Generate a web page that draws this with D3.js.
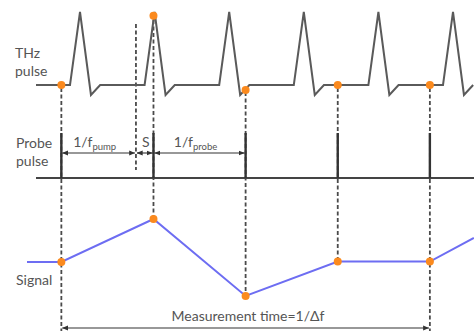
<!DOCTYPE html>
<html>
<head>
<meta charset="utf-8">
<script src="https://cdn.jsdelivr.net/npm/d3@7"></script>
<style>
  html, body { margin: 0; padding: 0; background: #fff; }
  svg { display: block; }
  text { font-family: Lato, "Open Sans", sans-serif; fill: #555; }
</style>
</head>
<body>
<svg id="chart" width="474" height="333"></svg>
<script>
// Time axis is in units of the pump period (THz pulse peaks at integer times).
const pumpPeaks = [0, 1, 2, 3, 4, 5];
// Shape of a single THz pulse: time offsets from its peak and normalised amplitude.
const pulseOffsets = [-0.134, 0, 0.147, 0.27];
const pulseAmps = [0, 1, -0.137, 0];
// Probe (sampling) instants, separated by 1/f_probe.
const sampleTimes = [-0.25, 0.985, 2.22, 3.455, 4.69];
// THz field seen at each probe instant.
const thzSampled = [0, 0.95, -0.07, 0, 0];
// Recorded signal at each probe instant, plus lead-in and trailing values.
const signalTimes = [-0.71, -0.25, 0.985, 2.22, 3.455, 4.69, 5.28];
const signalValues = [0, 0, 1, -0.79, 0.01, 0.01, 0.56];
// Interval markers (start, end, label main text, subscript).
const intervalStarts = [-0.25, 0.75, 0.985];
const intervalEnds = [0.75, 0.985, 2.22];
const intervalLabels = ["1/f", "S", "1/f"];
const intervalSubs = ["pump", "", "probe"];
// Dashed guide lines through the sampling instants and the end of one pump period.
const guideTimes = [-0.25, 0.75, 0.985, 2.22, 3.455, 4.69];
const rowLabels = [["THz", "pulse"], ["Probe", "pulse"], ["Signal"]];

const svg = d3.select("#chart");
const x = d3.scaleLinear().domain([0, 1]).range([80, 154.6]);
const yThz = d3.scaleLinear().domain([0, 1]).range([85, 12]);
const ySig = d3.scaleLinear().domain([0, 1]).range([262, 219]);
const probeBase = 178, probeTop = 133;
const arrowY = 153, measureY = 328;

const ink = "#4a4a4a";

// arrow markers
const defs = svg.append("defs");
defs.append("marker").attr("id", "arr")
  .attr("viewBox", "0 0 10 10").attr("refX", 9.5).attr("refY", 5)
  .attr("markerWidth", 5.5).attr("markerHeight", 5.5)
  .attr("orient", "auto-start-reverse")
  .append("path").attr("d", "M0,1 L10,5 L0,9 Z").attr("fill", "#333");

// guide lines (drawn first so traces sit on top)
const guideTop = [88, 24, 20, 92, 88, 88];
const guideBottom = [331, 170, 219, 296, 261, 331];
svg.append("g").selectAll("line").data(guideTimes).join("line")
  .attr("x1", d => x(d)).attr("x2", d => x(d))
  .attr("y1", (d, i) => guideTop[i]).attr("y2", (d, i) => guideBottom[i])
  .attr("stroke", ink).attr("stroke-width", 1.8)
  .attr("stroke-dasharray", "4,2.5");

// THz pulse train
const thzPts = [[x.invert(36), 0]];
pumpPeaks.forEach(p => pulseOffsets.forEach((o, i) => thzPts.push([p + o, pulseAmps[i]])));
svg.append("path")
  .attr("d", d3.line().x(d => x(d[0])).y(d => yThz(d[1]))(thzPts))
  .attr("fill", "none").attr("stroke", "#5a5a5a").attr("stroke-width", 2)
  .attr("stroke-linejoin", "miter");

// probe baseline and pulses
svg.append("line").attr("x1", 36).attr("x2", 474)
  .attr("y1", probeBase).attr("y2", probeBase)
  .attr("stroke", "#444").attr("stroke-width", 2);
svg.append("g").selectAll("line").data(sampleTimes).join("line")
  .attr("x1", d => x(d)).attr("x2", d => x(d))
  .attr("y1", probeTop).attr("y2", probeBase)
  .attr("stroke", "#333").attr("stroke-width", 2.4);

// interval arrows and labels
const iv = svg.append("g");
intervalStarts.forEach((s, i) => {
  const e = intervalEnds[i];
  iv.append("line")
    .attr("x1", x(s) + 1).attr("x2", x(e) - 1)
    .attr("y1", arrowY).attr("y2", arrowY)
    .attr("stroke", "#333").attr("stroke-width", 1.1)
    .attr("marker-start", "url(#arr)").attr("marker-end", "url(#arr)");
  const t = iv.append("text")
    .attr("x", (x(s) + x(e)) / 2 + (intervalSubs[i] ? -4 : 1))
    .attr("y", arrowY - 6).attr("text-anchor", "middle")
    .attr("font-size", 14);
  t.append("tspan").text(intervalLabels[i]);
  if (intervalSubs[i]) {
    t.append("tspan").attr("dy", 3).attr("font-size", 9.5).text(intervalSubs[i]);
  }
});

// signal trace
svg.append("path")
  .attr("d", d3.line().x((d, i) => x(signalTimes[i])).y(d => ySig(d))(signalValues))
  .attr("fill", "none").attr("stroke", "#6d6df2").attr("stroke-width", 2);

// sample markers on THz trace and signal trace
const orange = "#fb8a1e";
svg.append("g").selectAll("circle").data(sampleTimes).join("circle")
  .attr("cx", d => x(d)).attr("cy", (d, i) => yThz(thzSampled[i]))
  .attr("r", 4).attr("fill", orange);
svg.append("g").selectAll("circle").data(sampleTimes).join("circle")
  .attr("cx", d => x(d)).attr("cy", (d, i) => ySig(signalValues[i + 1]))
  .attr("r", 4).attr("fill", orange);

// measurement time arrow
svg.append("line")
  .attr("x1", x(sampleTimes[0]) + 1).attr("x2", x(sampleTimes[sampleTimes.length - 1]) - 1)
  .attr("y1", measureY).attr("y2", measureY)
  .attr("stroke", "#333").attr("stroke-width", 1.1)
  .attr("marker-start", "url(#arr)").attr("marker-end", "url(#arr)");
svg.append("text")
  .attr("x", 248).attr("y", 321).attr("text-anchor", "middle")
  .attr("font-size", 14).text("Measurement time=1/\u0394f");

// row labels
const labelPos = [[15, 58], [16, 148], [16, 285]];
rowLabels.forEach((lines, i) => {
  lines.forEach((s, j) => {
    svg.append("text").attr("x", labelPos[i][0]).attr("y", labelPos[i][1] + j * 18)
      .attr("font-size", 14).text(s);
  });
});
</script>
</body>
</html>
